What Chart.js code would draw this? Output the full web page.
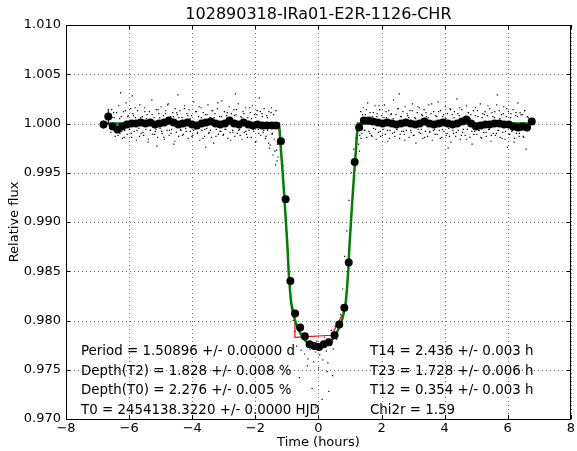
<!DOCTYPE html>
<html><head><meta charset="utf-8">
<script src="https://cdn.jsdelivr.net/npm/chart.js@4"></script>
<style>html,body{margin:0;padding:0;background:#fff;}canvas{display:block;}</style>
</head><body>
<canvas id="c" width="577" height="451"></canvas>
<script>
// ---- data ----
const chartTitle = "102890318-IRa01-E2R-1126-CHR";
const xTicks = [-8,-6,-4,-2,0,2,4,6,8];
const yTicks = [0.970,0.975,0.980,0.985,0.990,0.995,1.000,1.005,1.010];
const infoLeft = ["Period = 1.50896 +/- 0.00000 d","Depth(T2) = 1.828 +/- 0.008 %","Depth(T0) = 2.276 +/- 0.005 %","T0 = 2454138.3220 +/- 0.0000 HJD"];
const infoRight = ["T14 = 2.436 +/- 0.003 h","T23 = 1.728 +/- 0.006 h","T12 = 0.354 +/- 0.003 h","Chi2r = 1.59"];

// binned light curve
const binTime = [-6.81,-6.66,-6.52,-6.37,-6.22,-6.07,-5.92,-5.78,-5.63,-5.48,-5.33,-5.18,-5.04,-4.89,-4.74,-4.59,-4.44,-4.30,-4.15,-4.00,-3.85,-3.70,-3.56,-3.41,-3.26,-3.11,-2.96,-2.82,-2.67,-2.52,-2.37,-2.22,-2.08,-1.93,-1.78,-1.63,-1.48,-1.34,
 -1.19,-1.04,-0.89,-0.74,-0.58,-0.43,-0.28,-0.13,0.02,0.17,0.33,0.51,0.66,0.82,0.96,1.15,1.29,
 1.44,1.59,1.73,1.88,2.03,2.18,2.33,2.47,2.62,2.77,2.92,3.07,3.21,3.36,3.51,3.66,3.81,3.95,4.10,4.25,4.40,4.55,4.69,4.84,4.99,5.14,5.29,5.43,5.58,5.73,5.88,6.03,6.17,6.32,6.47,6.61,6.76];
const binFlux = [0.9999,1.0007,0.9997,0.9994,0.9997,0.9999,1.0000,1.0000,1.0001,1.0000,1.0001,0.9999,1.0000,1.0001,1.0003,1.0001,0.9999,1.0000,1.0001,0.9999,0.9998,1.0000,1.0001,1.0002,1.0000,0.9999,1.0000,1.0003,1.0000,0.9999,1.0001,0.9999,0.9998,0.9999,0.9998,0.9998,0.9998,0.9998,
 0.9982,0.9923,0.9840,0.9807,0.9793,0.9784,0.9776,0.9774,0.9773,0.9776,0.9778,0.9785,0.9796,0.9813,0.9859,0.9961,0.9996,
 1.0003,1.0003,1.0002,1.0001,1.0000,1.0001,1.0000,0.9999,1.0000,1.0001,1.0000,0.9999,1.0000,1.0002,1.0000,0.9999,1.0000,1.0001,1.0000,0.9999,1.0000,1.0002,1.0004,1.0000,0.9997,0.9998,0.9999,0.9999,1.0000,1.0000,0.9999,0.9999,0.9997,0.9996,0.9997,0.9996,1.0002];
const binErr = [0.0004,0.0008,0.0003,0.0003,0.0002,0.0002,0.0002,0.0002,0.0002,0.0002,0.0002,0.0002,0.0002,0.0002,0.0002,0.0002,0.0002,0.0002,0.0002,0.0002,0.0002,0.0002,0.0002,0.0002,0.0002,0.0002,0.0002,0.0002,0.0002,0.0002,0.0002,0.0002,0.0002,0.0002,0.0002,0.0002,0.0002,0.0002,
 0.0002,0.0002,0.0002,0.0002,0.0002,0.0002,0.0002,0.0002,0.0002,0.0002,0.0002,0.0002,0.0002,0.0002,0.0002,0.0002,0.0002,
 0.0002,0.0002,0.0002,0.0002,0.0002,0.0002,0.0002,0.0002,0.0002,0.0002,0.0002,0.0002,0.0002,0.0002,0.0002,0.0002,0.0002,0.0002,0.0002,0.0002,0.0002,0.0002,0.0002,0.0002,0.0002,0.0002,0.0002,0.0002,0.0002,0.0002,0.0002,0.0002,0.0002,0.0002,0.0002,0.0003,0.0003];

// raw photometry (unbinned), first set
const rawTime = [-6.62,-6.58,-6.55,-6.50,-6.47,-6.44,-6.40,-6.36,-6.33,-6.29,
 -6.25,-6.21,-6.18,-6.14,-6.10,-6.06,-6.03,-5.99,-5.95,-5.92,
 -5.88,-5.84,-5.80,-5.77,-5.73,-5.69,-5.66,-5.62,-5.58,-5.54,
 -5.51,-5.47,-5.43,-5.40,-5.36,-5.32,-5.28,-5.25,-5.21,-5.17,
 -5.14,-5.10,-5.06,-5.02,-4.99,-4.95,-4.91,-4.88,-4.84,-4.80,
 -4.76,-4.73,-4.69,-4.65,-4.62,-4.58,-4.54,-4.50,-4.47,-4.43,
 -4.39,-4.36,-4.32,-4.28,-4.24,-4.21,-4.17,-4.13,-4.10,-4.06,
 -4.02,-3.98,-3.95,-3.91,-3.87,-3.84,-3.80,-3.76,-3.72,-3.69,
 -3.65,-3.61,-3.58,-3.54,-3.50,-3.46,-3.43,-3.39,-3.35,-3.32,
 -3.28,-3.24,-3.20,-3.17,-3.13,-3.09,-3.06,-3.02,-2.98,-2.94,
 -2.91,-2.87,-2.83,-2.80,-2.76,-2.72,-2.68,-2.65,-2.61,-2.57,
 -2.54,-2.50,-2.46,-2.42,-2.39,-2.35,-2.31,-2.28,-2.24,-2.20,
 -2.16,-2.13,-2.09,-2.05,-2.02,-1.98,-1.94,-1.90,-1.87,-1.83,
 -1.79,-1.75,-1.72,-1.68,-1.64,-1.61,-1.57,-1.53,-1.49,-1.46,-1.42,-1.38,-1.35,-1.31,-1.27,
 1.27,1.31,1.34,1.38,1.42,1.45,1.49,1.53,1.56,1.60,
 1.64,1.68,1.71,1.75,1.79,1.83,1.86,1.90,1.94,1.97,
 2.01,2.05,2.09,2.12,2.16,2.20,2.23,2.27,2.31,2.35,
 2.38,2.42,2.46,2.49,2.53,2.57,2.61,2.64,2.68,2.72,
 2.75,2.79,2.83,2.87,2.90,2.94,2.98,3.01,3.05,3.09,
 3.13,3.16,3.20,3.24,3.27,3.31,3.35,3.39,3.42,3.46,
 3.50,3.53,3.57,3.61,3.65,3.68,3.72,3.76,3.79,3.83,
 3.87,3.91,3.94,3.98,4.02,4.05,4.09,4.13,4.17,4.20,
 4.24,4.28,4.31,4.35,4.39,4.43,4.46,4.50,4.54,4.57,
 4.61,4.65,4.69,4.72,4.76,4.80,4.83,4.87,4.91,4.95,
 4.98,5.02,5.06,5.09,5.13,5.17,5.21,5.24,5.28,5.32,
 5.35,5.39,5.43,5.47,5.50,5.54,5.58,5.61,5.65,5.69,
 5.73,5.76,5.80,5.84,5.87,5.91,5.95,5.99,6.02,6.06,
 6.10,6.13,6.17,6.21,6.25,6.28,6.32,6.36,6.39,6.43,
 6.47,6.51,6.54,6.58,6.62,
 -1.22,-1.18,-1.12,-1.05,-0.98,-0.92,-0.85,-0.80,-0.74,-0.69,-0.63,-0.55,-0.50,-0.44,-0.38,-0.33,-0.27,-0.22,-0.15,-0.10,-0.05,0.00,0.04,0.09,0.14,0.19,0.25,0.30,0.36,0.41,0.47,0.53,0.58,0.64,0.70,0.77,0.83,0.90,0.97,1.05,1.12,1.19,-0.60,-0.20,0.12,0.45,-0.35,0.28,-0.08,0.33];
const rawFlux = [1.0009,0.9991,1.0014,0.9994,1.0006,0.9987,1.0011,0.9995,1.0018,0.9990,
 1.0007,0.9985,1.0012,0.9993,1.0021,0.9989,1.0008,0.9994,1.0015,0.9986,
 1.0010,0.9992,1.0006,0.9983,1.0013,0.9995,1.0019,0.9990,1.0007,0.9988,
 1.0016,0.9994,1.0009,0.9981,1.0012,0.9993,1.0024,0.9989,1.0006,0.9992,
 1.0014,0.9986,1.0010,0.9995,1.0017,0.9990,1.0008,0.9984,1.0013,0.9993,
 1.0020,0.9988,1.0007,0.9994,1.0011,0.9979,1.0015,0.9991,1.0009,0.9987,
 1.0013,0.9993,1.0006,0.9989,1.0018,0.9995,1.0010,0.9985,1.0014,0.9992,
 1.0008,0.9988,1.0022,0.9994,1.0012,0.9990,1.0007,0.9983,1.0016,0.9993,
 1.0011,0.9987,1.0009,0.9995,1.0019,0.9991,1.0006,0.9986,1.0013,0.9980,
 1.0010,0.9994,1.0015,0.9989,1.0007,0.9992,1.0023,0.9988,1.0012,0.9994,
 1.0008,0.9985,1.0017,0.9991,1.0010,0.9993,1.0014,0.9987,1.0009,0.9990,
 1.0020,0.9994,1.0007,0.9984,1.0012,0.9991,1.0016,0.9989,1.0006,0.9993,
 1.0011,0.9986,1.0018,0.9992,1.0009,0.9982,1.0013,0.9994,1.0026,0.9988,
 1.0010,0.9991,1.0015,0.9985,1.0008,0.9993,1.0012,0.9978,1.0016,0.9990,1.0009,0.9972,1.0013,0.9962,0.9981,
 0.9979,0.9988,1.0012,0.9990,1.0016,0.9993,1.0009,0.9986,1.0021,0.9992,
 1.0011,0.9988,1.0007,0.9995,1.0018,0.9984,1.0010,0.9991,1.0014,0.9987,
 1.0008,0.9994,1.0019,0.9989,1.0006,0.9982,1.0013,0.9993,1.0010,0.9990,
 1.0024,0.9987,1.0009,0.9994,1.0015,0.9985,1.0007,0.9992,1.0012,0.9989,
 1.0017,0.9993,1.0008,0.9986,1.0013,0.9991,1.0020,0.9988,1.0006,0.9980,
 1.0011,0.9994,1.0016,0.9990,1.0009,0.9985,1.0014,0.9992,1.0007,0.9987,
 1.0019,0.9991,1.0010,0.9983,1.0012,0.9994,1.0008,0.9989,1.0022,0.9993,
 1.0013,0.9986,1.0007,0.9992,1.0017,0.9988,1.0010,0.9995,1.0015,0.9981,
 1.0009,0.9990,1.0012,0.9987,1.0025,0.9993,1.0008,0.9984,1.0014,0.9991,
 1.0006,0.9988,1.0018,0.9994,1.0011,0.9986,1.0009,0.9979,1.0013,0.9992,
 1.0016,0.9989,1.0007,0.9993,1.0020,0.9985,1.0010,0.9991,1.0012,0.9987,
 1.0008,0.9994,1.0015,0.9982,1.0011,0.9990,1.0006,0.9988,1.0019,0.9993,
 1.0013,0.9986,1.0009,0.9991,1.0017,0.9984,1.0007,0.9976,1.0012,0.9989,
 1.0010,0.9992,1.0014,0.9985,1.0008,0.9990,1.0021,0.9987,1.0011,0.9993,
 1.0009,0.9986,1.0013,0.9974,1.0007,
 0.9993,0.9978,0.9957,0.9915,0.9880,0.9846,0.9812,0.9800,0.9789,0.9774,0.9791,0.9770,0.9786,0.9766,0.9780,0.9761,0.9771,0.9784,0.9758,0.9768,0.9779,0.9752,0.9765,0.9776,0.9760,0.9783,0.9769,0.9757,0.9777,0.9790,0.9771,0.9794,0.9781,0.9799,0.9806,0.9832,0.9865,0.9891,0.9922,0.9950,0.9974,0.9985,0.9742,0.9731,0.9720,0.9744,0.9754,0.9748,0.9712,0.9728];

// raw photometry, second set
const rawTime2 = [-6.54,-6.49,-6.41,-6.35,-6.30,-6.23,-6.16,-6.12,-6.04,-5.98,
 -5.93,-5.86,-5.81,-5.75,-5.67,-5.63,-5.56,-5.50,-5.45,-5.39,
 -5.33,-5.27,-5.19,-5.15,-5.08,-5.03,-4.97,-4.90,-4.85,-4.78,
 -4.72,-4.67,-4.60,-4.55,-4.49,-4.42,-4.37,-4.31,-4.25,-4.19,
 -4.14,-4.07,-4.01,-3.96,-3.89,-3.83,-3.78,-3.71,-3.66,-3.60,
 -3.53,-3.48,-3.42,-3.37,-3.30,-3.25,-3.19,-3.12,-3.07,-3.01,
 -2.96,-2.89,-2.84,-2.78,-2.71,-2.66,-2.60,-2.53,-2.48,-2.43,
 -2.36,-2.30,-2.25,-2.18,-2.12,-2.07,-2.00,-1.95,-1.89,-1.84,
 -1.78,-1.73,-1.66,-1.62,-1.55,-1.50,-1.44,-1.40,-1.36,-1.30,
 -1.28,-1.33,-1.47,-1.58,-2.63,-3.57,-4.45,-5.12,-5.90,-6.27,
 1.35,1.40,1.47,1.52,1.58,1.63,1.70,1.74,1.81,1.85,
 1.92,1.96,2.03,2.08,2.14,2.19,2.25,2.30,2.37,2.41,
 2.48,2.52,2.59,2.63,2.70,2.74,2.81,2.86,2.92,2.97,
 3.03,3.08,3.15,3.19,3.26,3.30,3.37,3.41,3.48,3.53,
 3.59,3.64,3.70,3.75,3.81,3.86,3.93,3.97,4.04,4.08,
 4.15,4.19,4.26,4.30,4.37,4.42,4.48,4.53,4.59,4.64,
 4.70,4.75,4.81,4.86,4.93,4.97,5.04,5.08,5.15,5.19,
 5.26,5.31,5.37,5.42,5.48,5.53,5.59,5.64,5.71,5.75,
 5.82,5.86,5.93,5.97,6.04,6.09,6.15,6.20,6.26,6.31,
 6.37,6.42,6.49,6.53,6.60,6.65,1.30,2.56,4.11,5.67];
const rawFlux2 = [1.0006,1.0011,0.9993,0.9988,1.0005,0.9992,0.9986,1.0013,1.0007,0.9994,
 0.9990,1.0008,1.0016,0.9993,0.9987,1.0006,0.9991,1.0012,1.0005,0.9984,
 0.9993,1.0009,0.9989,0.9994,1.0014,1.0006,0.9992,0.9986,1.0010,1.0019,
 0.9993,0.9990,1.0007,0.9982,1.0011,1.0006,0.9994,0.9988,1.0015,0.9992,
 1.0008,1.0005,0.9987,0.9993,1.0012,0.9991,1.0017,1.0006,0.9985,0.9994,
 1.0009,0.9990,0.9993,1.0013,1.0006,0.9987,1.0021,0.9992,1.0007,0.9989,
 0.9994,1.0011,1.0005,0.9983,0.9991,1.0008,1.0014,0.9993,0.9988,1.0006,
 1.0010,0.9992,0.9986,1.0016,1.0005,0.9994,0.9981,1.0009,0.9990,1.0012,
 1.0007,0.9993,0.9987,1.0006,0.9975,1.0011,0.9968,0.9984,0.9958,0.9979,
 0.9966,0.9973,0.9989,0.9980,1.0030,0.9976,1.0029,0.9977,1.0028,1.0031,
 0.9985,1.0009,0.9993,1.0014,1.0006,0.9990,0.9987,1.0011,0.9994,1.0007,
 1.0018,0.9992,0.9988,1.0006,1.0012,0.9993,0.9985,1.0009,1.0005,0.9991,
 0.9994,1.0015,0.9989,1.0007,0.9992,0.9983,1.0010,1.0006,0.9993,1.0013,
 0.9988,1.0005,1.0017,0.9991,0.9994,1.0008,0.9986,1.0011,1.0006,0.9992,
 1.0020,0.9993,0.9989,1.0007,1.0012,0.9985,0.9994,1.0009,1.0005,0.9990,
 0.9987,1.0014,0.9993,1.0006,0.9991,1.0010,1.0016,0.9988,0.9994,1.0007,
 0.9984,1.0011,1.0005,0.9992,0.9989,1.0008,1.0013,0.9993,0.9986,1.0006,
 1.0009,0.9991,1.0018,0.9994,0.9988,1.0007,1.0012,0.9990,0.9993,1.0005,
 0.9985,1.0010,0.9992,1.0015,0.9989,1.0006,0.9993,0.9981,1.0011,1.0007,
 0.9990,1.0009,0.9987,1.0013,0.9994,1.0006,0.9972,1.0030,0.9975,1.0029];

// smooth transit model (green)
const modelTime = [-6.85,-1.25,-1.22,-1.18,-1.134,-1.08,-1.03,-0.98,-0.944,-0.90,-0.864,-0.82,-0.76,-0.70,-0.60,-0.50,-0.40,-0.30,-0.20,-0.10,0,0.10,0.20,0.30,0.40,0.50,0.60,0.70,0.76,0.82,0.864,0.90,0.944,0.98,1.03,1.08,1.134,1.18,1.22,1.25,6.75];
const modelFlux = [1.0,1.0,0.9988,0.9970,0.9950,0.9925,0.9900,0.9874,0.9850,0.9830,0.9818,0.9810,0.9802,0.9796,0.9789,0.9783,0.9779,0.9776,0.9774,0.9773,0.97725,0.9773,0.9774,0.9776,0.9779,0.9783,0.9789,0.9796,0.9802,0.9810,0.9818,0.9830,0.9850,0.9874,0.9900,0.9925,0.9950,0.9970,0.9988,1.0,1.0];
// trapezoid model (red)
const trapTime = [-6.85,-1.25,-1.134,-1.03,-0.944,-0.864,-0.745,-0.745,0.42,0.79,0.864,0.944,1.03,1.134,1.25,6.75];
const trapFlux = [1.0,1.0,0.9950,0.9900,0.9850,0.9818,0.9805,0.9783,0.9785,0.9808,0.9818,0.9850,0.9900,0.9950,1.0,1.0];

// ---- build ----
const pts = (xs, ys) => xs.map((x, i) => ({x: x, y: ys[i]}));
const FONT = "'DejaVu Sans', sans-serif";
const fmtX = v => (v < 0 ? '\u2212' + Math.abs(v) : String(v));

const decor = {
  id: 'decor',
  beforeDatasetsDraw(chart) {
    const {ctx, chartArea: a, scales: {x, y}} = chart;
    ctx.save();
    ctx.strokeStyle = 'rgba(0,0,0,0.6)';
    ctx.lineWidth = 1;
    ctx.setLineDash([1, 3]);
    xTicks.forEach(t => {
      const px = Math.round(x.getPixelForValue(t)) + 0.5;
      ctx.beginPath(); ctx.moveTo(px, a.top); ctx.lineTo(px, a.bottom); ctx.stroke();
    });
    yTicks.forEach(t => {
      const py = Math.round(y.getPixelForValue(t)) + 0.5;
      ctx.beginPath(); ctx.moveTo(a.left, py); ctx.lineTo(a.right, py); ctx.stroke();
    });
    ctx.restore();
  },
  afterDatasetsDraw(chart) {
    const {ctx, chartArea: a, scales: {x, y}} = chart;
    ctx.save();
    ctx.strokeStyle = '#000'; ctx.lineWidth = 1;
    binTime.forEach((t, i) => {
      const px = x.getPixelForValue(t);
      ctx.beginPath();
      ctx.moveTo(px, y.getPixelForValue(binFlux[i] - binErr[i]));
      ctx.lineTo(px, y.getPixelForValue(binFlux[i] + binErr[i]));
      ctx.stroke();
    });
    ctx.strokeRect(Math.round(a.left) + 0.5, Math.round(a.top) + 0.5, Math.round(a.right - a.left) - 1, Math.round(a.bottom - a.top));
    const L = 4;
    xTicks.forEach(t => {
      const px = Math.round(x.getPixelForValue(t)) + 0.5;
      ctx.beginPath(); ctx.moveTo(px, a.bottom); ctx.lineTo(px, a.bottom - L);
      ctx.moveTo(px, a.top); ctx.lineTo(px, a.top + L); ctx.stroke();
    });
    yTicks.forEach(t => {
      const py = Math.round(y.getPixelForValue(t)) + 0.5;
      ctx.beginPath(); ctx.moveTo(a.left, py); ctx.lineTo(a.left + L, py);
      ctx.moveTo(a.right, py); ctx.lineTo(a.right - L, py); ctx.stroke();
    });
    ctx.restore();
  },
  afterDraw(chart) {
    const {ctx, chartArea: a} = chart;
    ctx.save();
    ctx.fillStyle = '#000';
    ctx.textBaseline = 'middle';
    ctx.textAlign = 'center';
    ctx.font = '16px ' + FONT;
    ctx.fillText(chartTitle, (a.left + a.right) / 2, 15);
    ctx.font = '13px ' + FONT;
    ctx.fillText('Time (hours)', (a.left + a.right) / 2, 442.5);
    ctx.save();
    ctx.translate(15, (a.top + a.bottom) / 2);
    ctx.rotate(-Math.PI / 2);
    ctx.fillText('Relative flux', 0, 0);
    ctx.restore();
    ctx.textAlign = 'left';
    ctx.font = '13.4px ' + FONT;
    const rows = [352, 371.5, 391, 410.5];
    infoLeft.forEach((s, i) => ctx.fillText(s, 81, rows[i]));
    infoRight.forEach((s, i) => ctx.fillText(s, 370, rows[i]));
    ctx.restore();
  }
};

new Chart(document.getElementById('c'), {
  type: 'scatter',
  data: {
    datasets: [
      {label: 'raw', data: pts(rawTime, rawFlux), pointStyle: 'rect', pointRadius: 0.85, backgroundColor: '#000', borderWidth: 0, order: 5},
      {label: 'raw2', data: pts(rawTime2, rawFlux2), pointStyle: 'rect', pointRadius: 0.85, backgroundColor: '#000', borderWidth: 0, order: 4},
      {label: 'trapezoid', data: pts(trapTime, trapFlux), showLine: true, borderColor: '#ff0000', borderWidth: 1.2, pointRadius: 0, order: 3},
      {label: 'model', data: pts(modelTime, modelFlux), showLine: true, borderColor: '#008000', borderWidth: 2.5, pointRadius: 0, order: 2},
      {label: 'binned', data: pts(binTime, binFlux), pointRadius: 4, backgroundColor: '#000', borderWidth: 0, order: 1}
    ]
  },
  options: {
    responsive: false,
    animation: false,
    devicePixelRatio: 1,
    layout: {padding: {top: 25, right: 6, left: 0, bottom: 0}},
    plugins: {legend: {display: false}, tooltip: {enabled: false}, title: {display: false}},
    scales: {
      x: {
        type: 'linear', min: -8, max: 8,
        afterBuildTicks: s => { s.ticks = xTicks.map(v => ({value: v})); },
        afterFit: s => { s.height = 32; },
        grid: {display: false, drawTicks: false},
        border: {display: false},
        ticks: {color: '#000', font: {family: FONT, size: 13}, padding: 2, maxRotation: 0, autoSkip: false, callback: v => fmtX(v)}
      },
      y: {
        type: 'linear', min: 0.970, max: 1.010,
        afterBuildTicks: s => { s.ticks = yTicks.map(v => ({value: v})); },
        afterFit: s => { s.width = 66; },
        grid: {display: false, drawTicks: false},
        border: {display: false},
        ticks: {color: '#000', font: {family: FONT, size: 13}, padding: 5, autoSkip: false, callback: v => Number(v).toFixed(3)}
      }
    }
  },
  plugins: [decor]
});
</script>
</body></html>
